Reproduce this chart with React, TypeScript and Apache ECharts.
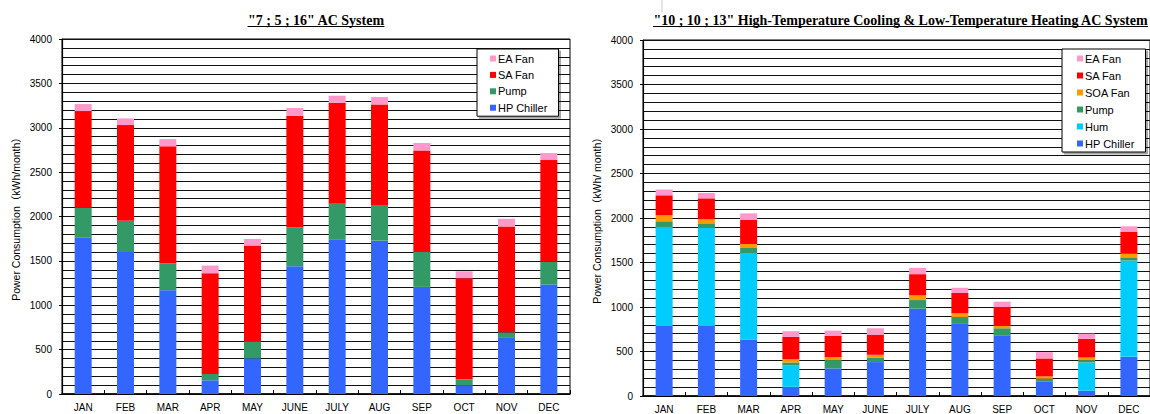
import React, { useEffect, useRef } from "react";
import * as echarts from "echarts";

const months = ["JAN", "FEB", "MAR", "APR", "MAY", "JUNE", "JULY", "AUG", "SEP", "OCT", "NOV", "DEC"];

// Left chart: "7 ; 5 ; 16" AC System
const leftHpChiller = [1762, 1600, 1169, 154, 402, 1440, 1743, 1728, 1207, 98, 632, 1233];
const leftPump = [340, 351, 301, 72, 192, 439, 400, 400, 393, 64, 63, 256];
const leftSaFan = [1086, 1079, 1321, 1135, 1078, 1256, 1139, 1135, 1145, 1143, 1192, 1147];
const leftEaFan = [79, 75, 81, 86, 75, 87, 79, 83, 83, 78, 87, 79];

// Right chart: "10 ; 10 ; 13" High-Temperature Cooling & Low-Temperature Heating AC System
const rightHpChiller = [787, 787, 631, 104, 310, 381, 981, 810, 683, 160, 60, 440];
const rightHum = [1112, 1108, 976, 239, 0, 0, 0, 0, 0, 0, 317, 1081];
const rightPump = [64, 45, 56, 34, 93, 52, 97, 78, 78, 34, 26, 37];
const rightSoaFan = [67, 45, 45, 37, 34, 30, 53, 41, 30, 26, 30, 45];
const rightSaFan = [225, 236, 270, 250, 238, 227, 238, 228, 209, 202, 209, 240];
const rightEaFan = [65, 60, 74, 64, 60, 71, 71, 59, 60, 71, 59, 63];

const yTicks = { min: 0, max: 4000, interval: 500 };

const leftTitle = '"7 ; 5 ; 16" AC System';
const rightTitle = '"10 ; 10 ; 13" High-Temperature Cooling & Low-Temperature Heating AC System';
const yName = "Power Consumption（kWh/month）";
const yNameRight = "Power Consumption（kWh/ month）";

const colors: Record<string, string> = {
  "EA Fan": "#FF99CC",
  "SA Fan": "#FF0000",
  "SOA Fan": "#FF9900",
  Pump: "#339966",
  Hum: "#00CCFF",
  "HP Chiller": "#3366FF",
};

const SANS = '"Liberation Sans", Arial, "Noto Sans CJK JP", sans-serif';
const SERIF = '"Liberation Serif", "Times New Roman", serif';

function measure(text: string, font: string): number {
  const c = document.createElement("canvas").getContext("2d");
  if (!c) return text.length * 7;
  c.font = font;
  return c.measureText(text).width;
}

export default function App() {
  const ref = useRef<HTMLDivElement>(null);

  useEffect(() => {
    if (!ref.current) return;
    const chart = echarts.init(ref.current, undefined, { renderer: "svg" });

    const grids = [
      { left: 62, top: 39, width: 508, height: 355 },
      { left: 643, top: 40, width: 515, height: 356 },
    ];

    const xAxis = grids.map((_, i) => ({
      type: "category",
      gridIndex: i,
      data: months,
      axisLine: { show: true, lineStyle: { color: "#000", width: 1.5 } },
      axisTick: { show: true, inside: true, length: 4, alignWithLabel: false, lineStyle: { color: "#000" } },
      axisLabel: { fontSize: 10, color: "#000", margin: 8, fontFamily: SANS, interval: 0 },
      splitLine: { show: false },
    }));

    const yAxis = grids.map((_, i) => ({
      type: "value",
      gridIndex: i,
      min: yTicks.min,
      max: yTicks.max,
      interval: yTicks.interval,
      name: i === 0 ? yName : yNameRight,
      nameLocation: "middle",
      nameGap: 41,
      nameTextStyle: { fontSize: 10.5, color: "#000", fontFamily: SANS },
      axisLine: { show: true, lineStyle: { color: "#000", width: 1.2 } },
      axisTick: { show: true, inside: false, length: 3, lineStyle: { color: "#000" } },
      axisLabel: {
        fontSize: 10,
        color: "#000",
        margin: 10,
        fontFamily: SANS,
        formatter: (v: number) => String(v),
      },
      splitLine: { show: true, lineStyle: { color: "#111", width: 1 } },
      minorTick: { show: false, splitNumber: 5 },
      minorSplitLine: { show: true, lineStyle: { color: "#111", width: 1 } },
    }));

    const mk = (name: string, data: number[], idx: number) => ({
      name,
      type: "bar",
      xAxisIndex: idx,
      yAxisIndex: idx,
      stack: idx === 0 ? "L" : "R",
      barWidth: 17,
      data,
      itemStyle: { color: colors[name] },
      emphasis: { disabled: true },
    });

    const series = [
      mk("HP Chiller", leftHpChiller, 0),
      mk("Pump", leftPump, 0),
      mk("SA Fan", leftSaFan, 0),
      mk("EA Fan", leftEaFan, 0),
      mk("HP Chiller", rightHpChiller, 1),
      mk("Hum", rightHum, 1),
      mk("Pump", rightPump, 1),
      mk("SOA Fan", rightSoaFan, 1),
      mk("SA Fan", rightSaFan, 1),
      mk("EA Fan", rightEaFan, 1),
    ];

    const legendBase = {
      orient: "vertical",
      icon: "rect",
      itemWidth: 6,
      itemHeight: 6,
      selectedMode: false,
      backgroundColor: "#fff",
      borderColor: "#000",
      borderWidth: 1,
      shadowColor: "rgba(0,0,0,0.35)",
      shadowOffsetX: 2,
      shadowOffsetY: 2,
      shadowBlur: 0,
      textStyle: { fontSize: 11, lineHeight: 11, color: "#000", fontFamily: SANS, padding: [0, 0, 0, -3] },
    };

    const titleFont = `bold 14px ${SERIF}`;
    const lw = measure(leftTitle, titleFont);
    const rw = measure(rightTitle, titleFont);
    const lc = grids[0].left + grids[0].width / 2;
    const rc = grids[1].left + grids[1].width / 2;

    chart.setOption({
      animation: false,
      backgroundColor: "#fff",
      grid: grids.map((g) => ({ ...g, show: true, borderColor: "#000", borderWidth: 1, containLabel: false })),
      xAxis,
      yAxis,
      legend: [
        {
          ...legendBase,
          left: 477,
          top: 49,
          itemGap: 5.4,
          padding: [4, 11, 3, 13],
          data: ["EA Fan", "SA Fan", "Pump", "HP Chiller"],
        },
        {
          ...legendBase,
          left: 1062,
          top: 49,
          itemGap: 6,
          padding: [4, 11, 3, 15],
          data: ["EA Fan", "SA Fan", "SOA Fan", "Pump", "Hum", "HP Chiller"],
        },
      ],
      series,
      graphic: [
        {
          type: "text",
          x: lc,
          y: 20,
          style: { text: leftTitle, font: titleFont, fill: "#000", align: "center", verticalAlign: "middle" },
        },
        { type: "line", shape: { x1: lc - lw / 2, y1: 26.5, x2: lc + lw / 2, y2: 26.5 }, style: { stroke: "#000", lineWidth: 1 } },
        {
          type: "text",
          x: rc,
          y: 20,
          style: { text: rightTitle, font: titleFont, fill: "#000", align: "center", verticalAlign: "middle" },
        },
        { type: "line", shape: { x1: rc - rw / 2, y1: 26.5, x2: rc + rw / 2, y2: 26.5 }, style: { stroke: "#000", lineWidth: 1 } },
        { type: "line", shape: { x1: 662, y1: 0, x2: 662, y2: 12 }, style: { stroke: "#ccc", lineWidth: 1 } },
      ],
    });

    return () => chart.dispose();
  }, []);

  return <div ref={ref} style={{ position: "absolute", left: 0, top: 0, width: 1150, height: 414 }} />;
}
